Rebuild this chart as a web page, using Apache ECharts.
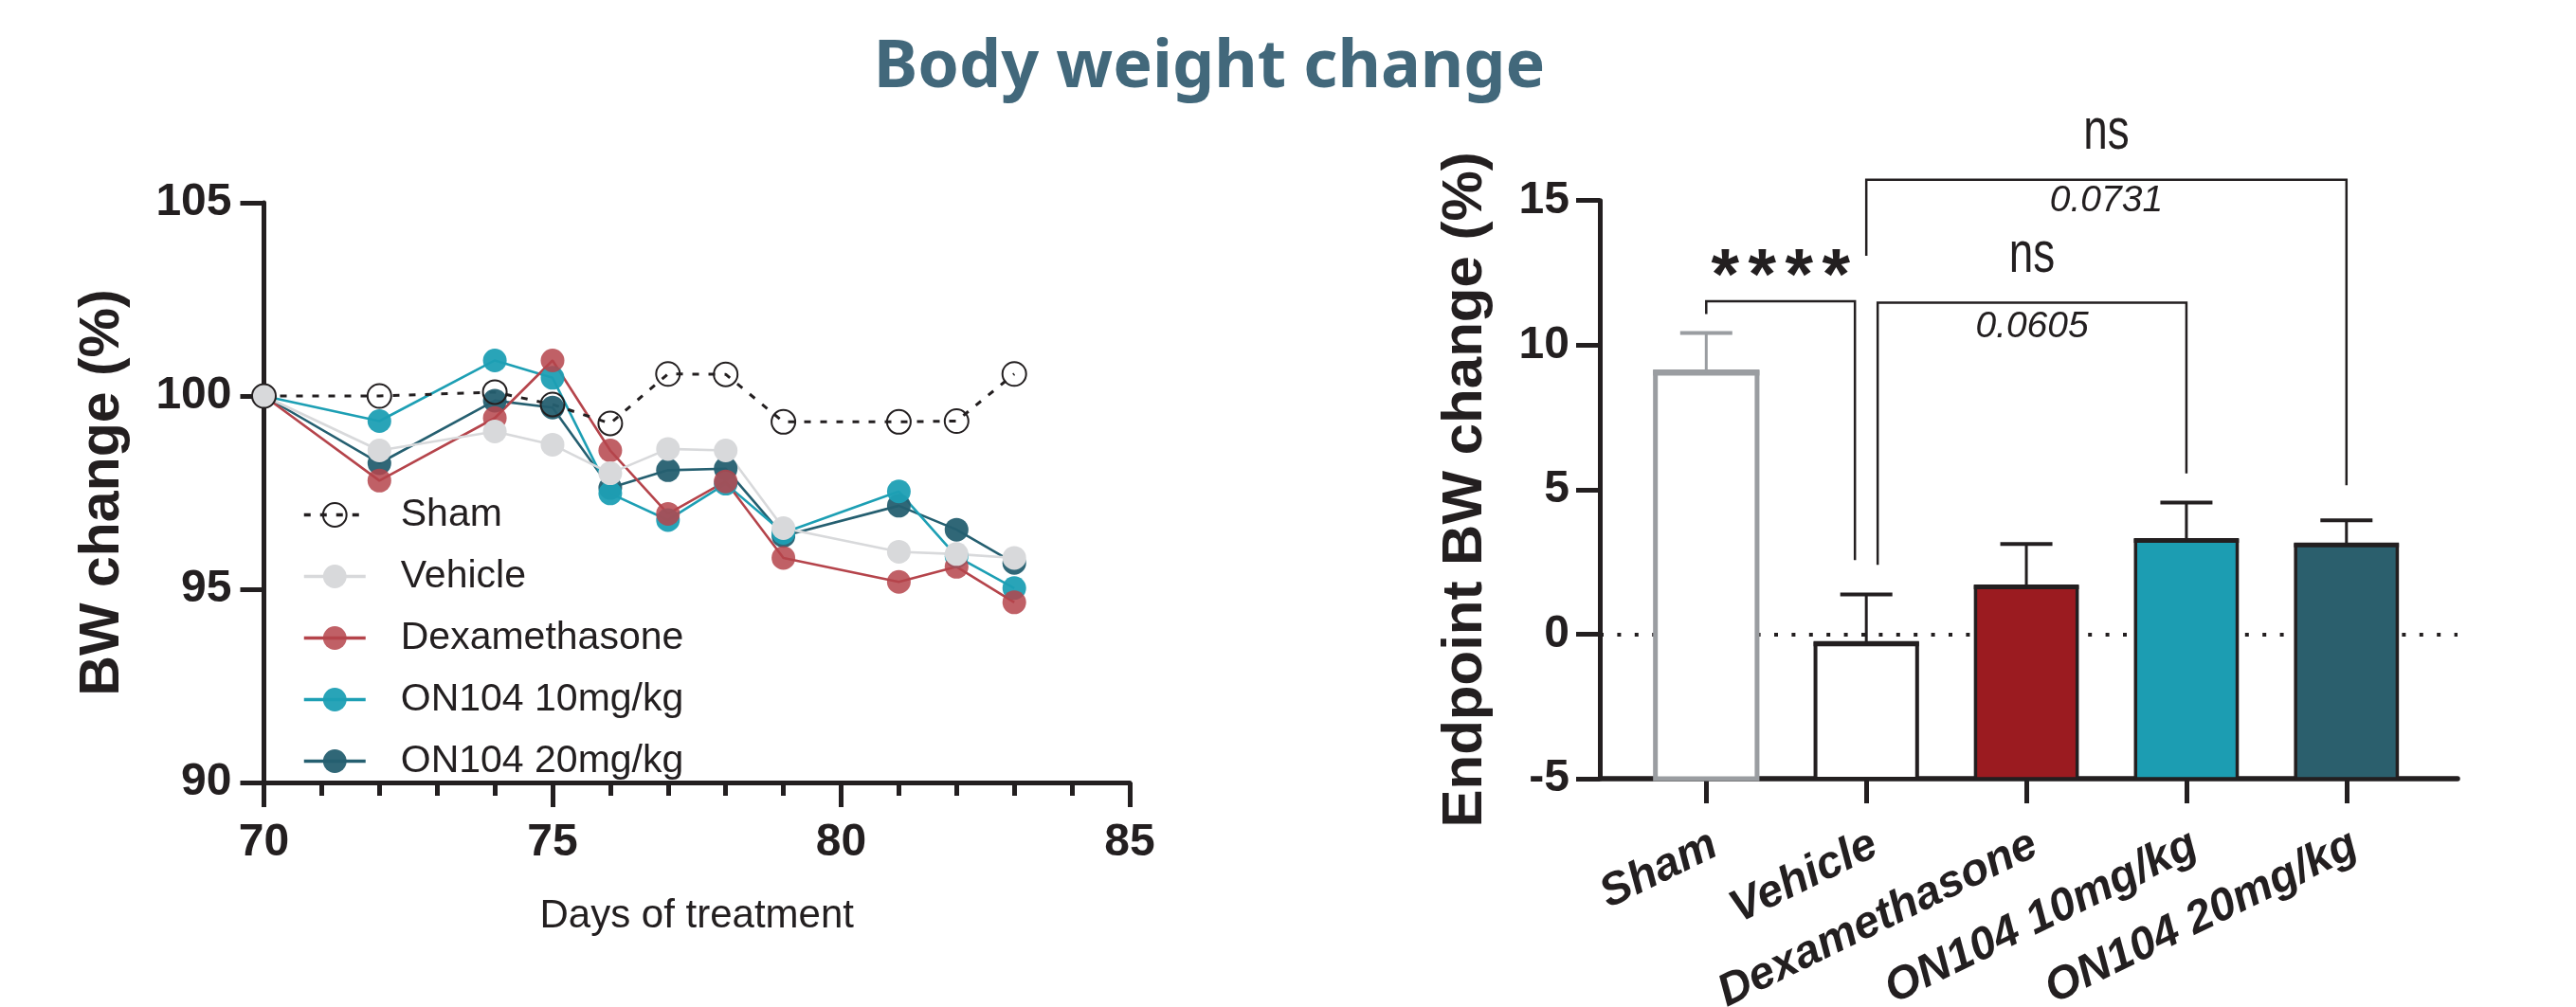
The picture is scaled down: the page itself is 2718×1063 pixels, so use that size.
<!DOCTYPE html>
<html>
<head>
<meta charset="utf-8">
<script src="https://cdn.jsdelivr.net/npm/echarts@6/dist/echarts.min.js"></script>
<style>
  html, body { margin: 0; padding: 0; background: #ffffff; }
  #chart { width: 2718px; height: 1063px; }
</style>
</head>
<body>
<div id="chart"></div>
<script>
// ---- Body weight over time (% of day-70 weight) ----
const days = [70, 72, 74, 75, 76, 77, 78, 79, 81, 82, 83];
const shamBW = [100, 100.0, 100.1, 99.78, 99.29, 100.57, 100.56, 99.33, 99.33, 99.35, 100.57];
const vehicleBW = [100, 98.59, 99.08, 98.74, 98.0, 98.63, 98.59, 96.58, 95.97, 95.91, 95.81];
const dexBW = [100, 97.81, 99.43, 100.92, 98.59, 96.95, 97.79, 95.81, 95.19, 95.58, 94.66];
const on10BW = [100, 99.35, 100.92, 100.47, 97.48, 96.79, 97.73, 96.46, 97.53, 95.85, 95.03];
const on20BW = [100, 98.26, 99.88, 99.70, 97.62, 98.08, 98.12, 96.38, 97.16, 96.54, 95.68];

// ---- Endpoint body weight change (mean + SEM, %) ----
const groups = ['Sham', 'Vehicle', 'Dexamethasone', 'ON104 10mg/kg', 'ON104 20mg/kg'];
const endpointMean = [9.05, -0.33, 1.64, 3.24, 3.09];
const endpointSem = [1.37, 1.70, 1.48, 1.31, 0.85];

// ---- Statistical comparisons ----
const compareFrom = [0, 1, 1];
const compareTo = [1, 3, 4];
const bracketTop = [11.52, 11.47, 15.72];
const legEndFrom = [11.07, 2.40, 13.09];
const legEndTo = [2.56, 5.56, 5.15];
const sigLabel = ['****', 'ns', 'ns'];
const sigLabelY = [12.80, 12.93, 17.19];
const pValue = ['', '0.0605', '0.0731'];
const pValueY = [0, 10.64, 14.98];

const INK = '#231f20';
const FONT = '"Liberation Sans", Arial, Helvetica, sans-serif';

const chart = echarts.init(document.getElementById('chart'), null, { renderer: 'canvas' });

const pairs = vals => days.map((d, i) => [d, vals[i]]);

function groupSeries(name, vals, color, opacity) {
  return {
    name: name,
    type: 'line',
    xAxisIndex: 0, yAxisIndex: 0,
    data: pairs(vals),
    symbol: 'circle',
    symbolSize: 25,
    lineStyle: { color: color, width: 2.6 },
    itemStyle: { color: color, opacity: opacity },
    emphasis: { disabled: true },
    animation: false
  };
}

// bar appearance
const barFill = ['#ffffff', '#ffffff', '#9b1b20', '#1c9db2', '#2b5f6d'];
const barStroke = ['#9a9da1', INK, INK, INK, INK];
const barBorder = [5, 4, 3.5, 3.5, 3.5];
const barFrac = 0.635;
const capHalf = 27.5;

function renderBar(params, api) {
  const i = api.value(0), m = api.value(1), e = api.value(2);
  const half = api.size([barFrac, 0])[0] / 2;
  const top = api.coord([i, m]);
  const base = api.coord([i, -5]);
  const cap = api.coord([i, m + e]);
  const stroke = barStroke[i], lw = barBorder[i];
  return {
    type: 'group',
    children: [
      { type: 'rect', shape: { x: top[0] - half, y: top[1], width: half * 2, height: base[1] - top[1] },
        style: { fill: barFill[i], stroke: stroke, lineWidth: lw } },
      { type: 'line', shape: { x1: top[0] - half - lw / 2, y1: top[1], x2: top[0] + half + lw / 2, y2: top[1] },
        style: { stroke: stroke, lineWidth: lw + 1.5 } },
      { type: 'line', shape: { x1: top[0], y1: top[1], x2: cap[0], y2: cap[1] },
        style: { stroke: stroke, lineWidth: 3 } },
      { type: 'line', shape: { x1: cap[0] - capHalf, y1: cap[1], x2: cap[0] + capHalf, y2: cap[1] },
        style: { stroke: stroke, lineWidth: 4 } }
    ]
  };
}

// leg offsets (px) keep neighbouring brackets from touching
const legShift = [[0, -12], [12, 0], [0, 0]];

function renderBracket(params, api) {
  const k = params.dataIndex;
  const a = compareFrom[k], b = compareTo[k];
  const pA = api.coord([a, legEndFrom[k]]);
  const pAT = api.coord([a, bracketTop[k]]);
  const pB = api.coord([b, legEndTo[k]]);
  const pBT = api.coord([b, bracketTop[k]]);
  const xa = pA[0] + legShift[k][0], xb = pB[0] + legShift[k][1];
  const mid = api.coord([(a + b) / 2, sigLabelY[k]]);
  const cx = (xa + xb) / 2;
  const children = [
    { type: 'polyline', shape: { points: [[xa, pA[1]], [xa, pAT[1]], [xb, pBT[1]], [xb, pB[1]]] },
      style: { stroke: INK, lineWidth: 2.5, fill: null } }
  ];
  if (sigLabel[k].charAt(0) === '*') {
    const n = sigLabel[k].length, pitch = 39;
    for (let j = 0; j < n; j++) {
      children.push({ type: 'text', x: cx + (j - (n - 1) / 2) * pitch, y: mid[1] + 15,
        style: { text: '*', fill: INK, font: 'bold 76px ' + FONT, align: 'center', verticalAlign: 'middle' } });
    }
  } else {
    children.push({ type: 'text', x: cx, y: mid[1] - 5, scaleX: 0.74,
      style: { text: sigLabel[k], fill: INK, font: '62px ' + FONT, align: 'center', verticalAlign: 'middle' } });
  }
  if (pValue[k]) {
    const pp = api.coord([(a + b) / 2, pValueY[k]]);
    children.push({ type: 'text', x: cx, y: pp[1],
      style: { text: pValue[k], fill: INK, font: 'italic 39px ' + FONT, align: 'center', verticalAlign: 'middle' } });
  }
  return { type: 'group', children: children };
}

const option = {
  backgroundColor: '#ffffff',
  animation: false,
  graphic: [{
    type: 'text', x: 1276, y: 72,
    style: { text: 'Body weight change', fill: '#42687b', font: 'bold 70px "Noto Sans", "Open Sans", sans-serif',
      align: 'center', verticalAlign: 'middle' }
  }],
  legend: {
    orient: 'vertical',
    left: 314, top: 518,
    itemWidth: 65, itemHeight: 31,
    itemGap: 24,
    data: ['Sham', 'Vehicle', 'Dexamethasone', 'ON104 10mg/kg', 'ON104 20mg/kg'],
    lineStyle: { width: 3.5 },
    textStyle: { fontSize: 41, color: INK, fontFamily: FONT, lineHeight: 41, padding: [0, 0, 0, 32] },
    selectedMode: false
  },
  grid: [
    { left: 278.5, top: 214, width: 913.5, height: 612, outerBoundsMode: 'none' },
    { left: 1688, top: 211.7, width: 905, height: 610.3, outerBoundsMode: 'none' }
  ],
  xAxis: [
    {
      type: 'value', gridIndex: 0, min: 70, max: 85, interval: 5,
      axisLine: { show: true, onZero: false, lineStyle: { color: INK, width: 5 } },
      axisTick: { show: true, length: 26, lineStyle: { color: INK, width: 5 } },
      minorTick: { show: true, splitNumber: 5, length: 14, lineStyle: { color: INK, width: 5 } },
      splitLine: { show: false },
      axisLabel: { fontSize: 48, fontWeight: 'bold', color: INK, fontFamily: FONT, margin: 40 },
      name: 'Days of treatment', nameLocation: 'middle', nameGap: 120,
      nameTextStyle: { fontSize: 42, color: INK, fontFamily: FONT }
    },
    {
      type: 'value', gridIndex: 1, min: -0.665, max: 4.694,
      axisLine: { show: true, onZero: false, lineStyle: { color: INK, width: 5.5 } },
      axisTick: { show: true, customValues: [0, 1, 2, 3, 4], length: 26, lineStyle: { color: INK, width: 5 } },
      splitLine: { show: false },
      axisLabel: {
        customValues: [0, 1, 2, 3, 4],
        formatter: v => groups[Math.round(v)],
        rotate: 26, margin: 72,
        padding: [0, -10, 0, 0],
        fontSize: 48, fontWeight: 'bold', fontStyle: 'italic', color: INK, fontFamily: FONT
      }
    }
  ],
  yAxis: [
    {
      type: 'value', gridIndex: 0, min: 90, max: 105, interval: 5,
      axisLine: { show: true, onZero: false, lineStyle: { color: INK, width: 5 } },
      axisTick: { show: true, length: 25, lineStyle: { color: INK, width: 5 } },
      splitLine: { show: false },
      axisLabel: { fontSize: 48, fontWeight: 'bold', color: INK, fontFamily: FONT, margin: 34 },
      name: 'BW change (%)', nameLocation: 'middle', nameGap: 140,
      nameTextStyle: { fontSize: 59, fontWeight: 'bold', color: INK, fontFamily: FONT }
    },
    {
      type: 'value', gridIndex: 1, min: -5, max: 15, interval: 5,
      axisLine: { show: true, onZero: false, lineStyle: { color: INK, width: 5 } },
      axisTick: { show: true, length: 25, lineStyle: { color: INK, width: 5 } },
      splitLine: { show: false },
      axisLabel: { fontSize: 48, fontWeight: 'bold', color: INK, fontFamily: FONT, margin: 32 },
      name: 'Endpoint BW change (%)', nameLocation: 'middle', nameGap: 112,
      nameTextStyle: { fontSize: 60, fontWeight: 'bold', color: INK, fontFamily: FONT }
    }
  ],
  series: [
    groupSeries('ON104 20mg/kg', on20BW, '#255f70', 0.95),
    groupSeries('ON104 10mg/kg', on10BW, '#1d9fb4', 0.95),
    groupSeries('Dexamethasone', dexBW, '#b5444b', 0.85),
    groupSeries('Vehicle', vehicleBW, '#d8d9db', 1),
    {
      name: 'Sham',
      type: 'line', xAxisIndex: 0, yAxisIndex: 0,
      data: pairs(shamBW),
      symbol: 'circle', symbolSize: 25,
      lineStyle: { color: INK, width: 3, type: [7, 10] },
      itemStyle: { color: 'rgba(255,255,255,0)', borderColor: INK, borderWidth: 2 },
      emphasis: { disabled: true },
      z: 3
    },
    {
      name: 'Endpoint',
      type: 'custom', xAxisIndex: 1, yAxisIndex: 1,
      data: groups.map((g, i) => [i, endpointMean[i], endpointSem[i]]),
      encode: { x: 0, y: 1 },
      renderItem: renderBar,
      clip: false,
      z: 2,
      markLine: {
        silent: true, symbol: 'none', z: 1,
        label: { show: false },
        lineStyle: { color: INK, width: 4, type: [4, 14.4] },
        data: [{ yAxis: 0 }]
      }
    },
    {
      name: 'Comparisons',
      type: 'custom', xAxisIndex: 1, yAxisIndex: 1,
      data: compareFrom.map((a, k) => [a, bracketTop[k]]),
      encode: { x: 0, y: 1 },
      renderItem: renderBracket,
      clip: false,
      z: 4
    }
  ]
};

chart.setOption(option);
</script>
</body>
</html>
